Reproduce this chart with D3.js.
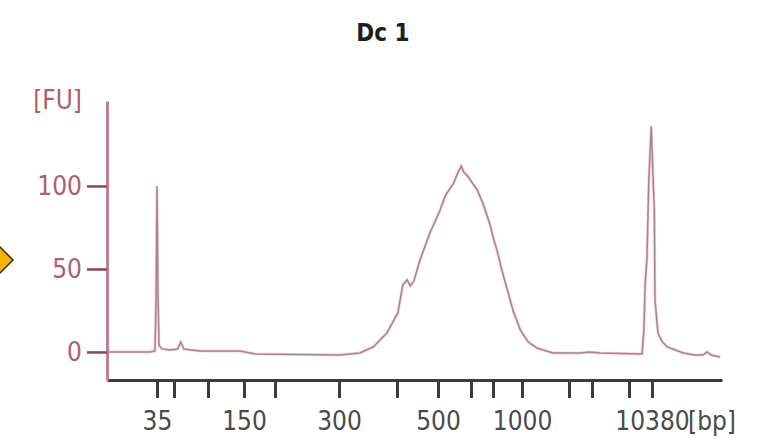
<!DOCTYPE html>
<html>
<head>
<meta charset="utf-8">
<script src="https://cdn.jsdelivr.net/npm/d3@7"></script>
<style>
  body { margin: 0; background: #fff; }
  svg text { font-family: "DejaVu Sans Condensed", "DejaVu Sans", sans-serif; font-stretch: condensed; }
</style>
</head>
<body>
<div id="chart"></div>
<script>
// Electropherogram "Dc 1"

// ladder: fragment size (bp) and the migration time (s) it sits at
var ladderBp   = [35, 50, 100, 150, 200, 300, 400, 500, 600, 700, 1000, 2000, 3000, 7000, 10380];
var ladderTime = [28.13, 30.89, 36.42, 42.28, 47.32, 57.72, 67.15, 73.82, 79.19, 82.76, 87.48, 95.12, 98.86, 104.88, 108.62];
var labelledBp = [35, 150, 300, 500, 1000, 10380];

var fuTicks = [0, 50, 100];

// trace: time (s) and fluorescence (FU)
var traceTime = [20.0, 27.0, 27.8, 27.97, 28.13, 28.3, 28.46, 28.9, 30.2, 31.5, 32.0, 32.5, 35.1, 41.6, 44.1,
                 57.9, 59.5, 61.1, 63.3, 65.5, 67.3, 68.1, 68.8, 69.3, 69.9, 70.9, 72.5, 74.1, 75.0, 75.6,
                 76.3, 76.7, 77.1, 77.6, 78.0, 78.5, 79.3, 80.2, 81.1, 82.3, 82.9, 83.4, 84.2, 85.0, 86.0,
                 87.2, 88.5, 89.9, 92.5, 96.9, 98.5, 100.2, 107.0, 107.3, 107.5, 107.8, 108.1, 108.5, 108.8,
                 109.0, 109.1, 109.6, 110.2, 111.1, 112.4, 113.7, 115.6, 116.9, 117.6, 118.2, 119.7];
var traceFU   = [0, 0, 0.6, 31, 100, 31, 4, 2, 1.2, 1.8, 6, 1.8, 0.6, 0.6, -1.2,
                 -1.8, -1.2, -0.6, 3, 11.4, 23.5, 40.4, 43.4, 39.8, 42.8, 55.4, 71.7, 84.9, 94, 97.6,
                 101.2, 104.8, 108.4, 112, 108.4, 106.6, 102.4, 97.6, 89.8, 76.5, 67.5, 61.4, 49.4, 38.6, 25.3,
                 13.3, 6, 2.4, -0.6, -0.6, 0, -0.6, -1.2, 13.3, 40.4, 56.6, 103.6, 136, 103.6,
                 85.5, 31.3, 11.4, 6.6, 3, 1.2, -0.6, -1.8, -1.8, 0, -1.8, -3];

var width = 759, height = 439;
var margin = {top: 101, right: 37, bottom: 59, left: 107};

var svg = d3.select("#chart").append("svg")
    .attr("width", width)
    .attr("height", height);

var x = d3.scaleLinear()
    .domain([20, 120])
    .range([margin.left, width - margin.right]);

var y = d3.scaleLinear()
    .domain([-16.9, 151.2])
    .range([height - margin.bottom, margin.top]);

// title
svg.append("text")
    .attr("x", 383)
    .attr("y", 41)
    .attr("text-anchor", "middle")
    .style("font-size", "24px")
    .style("font-weight", "bold")
    .style("fill", "#1e1e1e")
    .text("Dc 1");

// little yellow marker cut by the left edge
svg.append("polygon")
    .attr("points", "-13,260 0,247 13,260 0,273")
    .style("fill", "#f7b500")
    .style("stroke", "#3a2a00")
    .style("stroke-width", 1.5);

// trace
var points = traceTime.map(function (t, i) { return [t, traceFU[i]]; });

var line = d3.line()
    .x(function (d) { return x(d[0]); })
    .y(function (d) { return y(d[1]); });

svg.append("path")
    .datum(points)
    .attr("d", line)
    .style("fill", "none")
    .style("stroke", "#f0b8c4")
    .style("stroke-width", 3)
    .style("opacity", 0.6);

svg.append("path")
    .datum(points)
    .attr("d", line)
    .style("fill", "none")
    .style("stroke", "#a8848c")
    .style("stroke-width", 1.5);

// x axis (ladder)
var xAxis = d3.axisBottom(x)
    .tickValues(ladderTime)
    .tickSize(18)
    .tickSizeOuter(0)
    .tickPadding(14)
    .tickFormat(function (t, i) {
        var bp = ladderBp[i];
        return labelledBp.indexOf(bp) >= 0 ? bp : "";
    });

var gx = svg.append("g")
    .attr("transform", "translate(0," + (height - margin.bottom) + ")")
    .call(xAxis);

gx.select(".domain").style("stroke", "#3c3c3c").style("stroke-width", 3);
gx.selectAll(".tick line").style("stroke", "#3c3c3c").style("stroke-width", 3);
gx.selectAll(".tick text").style("font-size", "26px").style("fill", "#4a4a4a");

svg.append("text")
    .attr("x", 688)
    .attr("y", height - margin.bottom + 32)
    .attr("dy", "0.71em")
    .style("font-size", "26px")
    .style("fill", "#4a4a4a")
    .text("[bp]");

// y axis
var yAxis = d3.axisLeft(y)
    .tickValues(fuTicks)
    .tickSize(20)
    .tickSizeOuter(0)
    .tickPadding(5);

var gy = svg.append("g")
    .attr("transform", "translate(" + margin.left + ",0)")
    .call(yAxis);

gy.select(".domain").style("stroke", "#bb8290").style("stroke-width", 3);
gy.selectAll(".tick line").style("stroke", "#8e4455").style("stroke-width", 2.5);
gy.selectAll(".tick text").style("font-size", "26px").style("fill", "#a9606f");

svg.append("text")
    .attr("x", 82)
    .attr("y", 100)
    .attr("dy", "0.35em")
    .attr("text-anchor", "end")
    .style("font-size", "26px")
    .style("fill", "#a9606f")
    .text("[FU]");
</script>
</body>
</html>
